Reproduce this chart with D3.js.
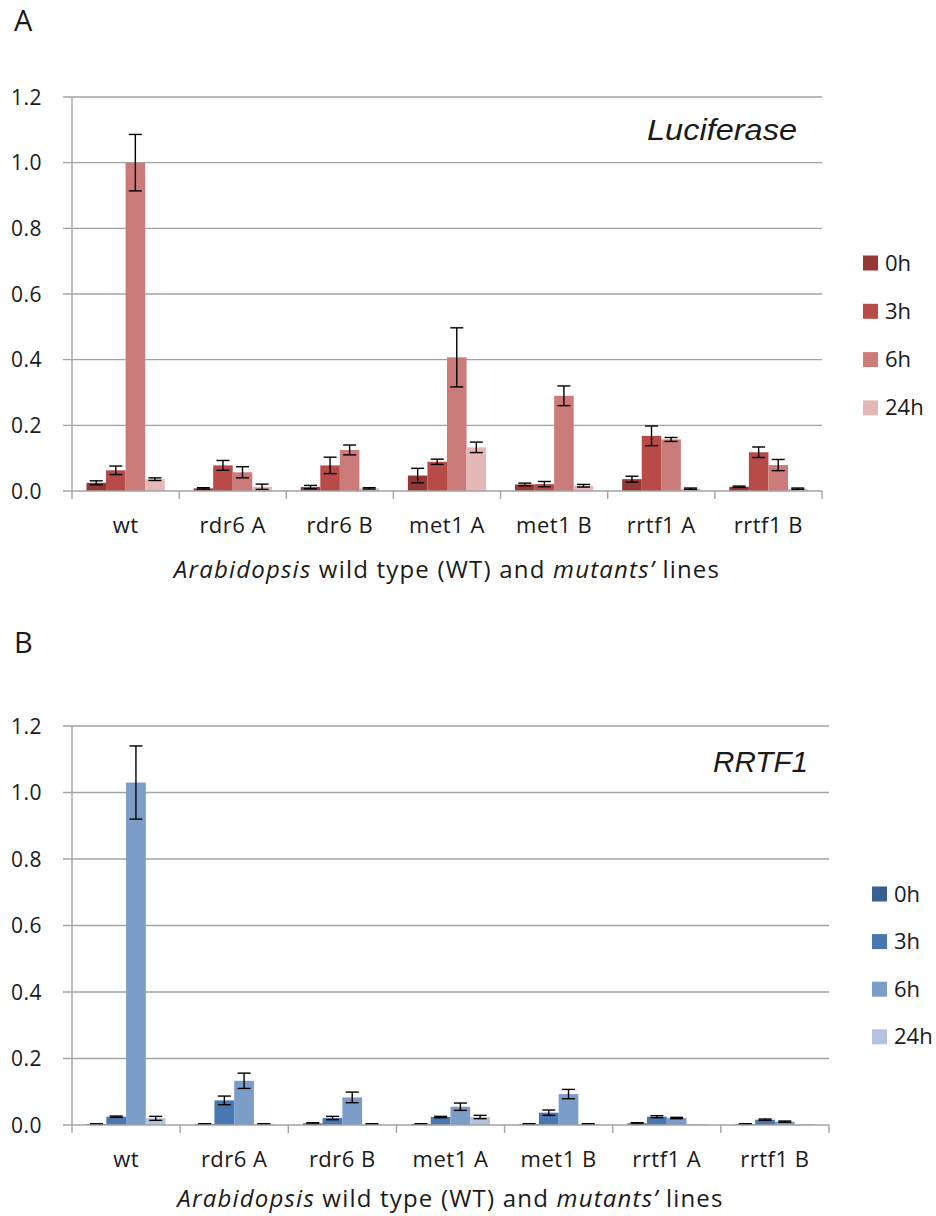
<!DOCTYPE html>
<html lang="en">

<head>
  <meta charset="UTF-8">
  <title>Luciferase / RRTF1</title>
  <style>
    html,
    body {
      margin: 0;
      width: 100%;
      height: 100%;
      overflow: hidden;
      background: #fff;
    }

    svg {
      display: block;
    }

    text {
      font-family: "Open Sans", sans-serif;
      fill: #1a1a1a;
    }
  </style>
</head>

<body>
  <div id="chart"></div>

  <script src="https://cdn.jsdelivr.net/npm/d3@7"></script>
  <script>
    // ---- data ----
    const categories = ['wt', 'rdr6 A', 'rdr6 B', 'met1 A', 'met1 B', 'rrtf1 A', 'rrtf1 B']
    const timepoints = ['0h', '3h', '6h', '24h']
    const yTicks = [0, 0.2, 0.4, 0.6, 0.8, 1.0, 1.2]

    // A: Luciferase
    const luc0h = [0.025, 0.008, 0.012, 0.047, 0.020, 0.036, 0.013]
    const luc3h = [0.063, 0.078, 0.078, 0.089, 0.021, 0.168, 0.118]
    const luc6h = [1.000, 0.057, 0.125, 0.407, 0.290, 0.157, 0.079]
    const luc24h = [0.036, 0.013, 0.008, 0.133, 0.016, 0.007, 0.007]
    const lucErr0h = [0.006, 0.002, 0.005, 0.022, 0.004, 0.009, 0.002]
    const lucErr3h = [0.013, 0.015, 0.025, 0.008, 0.008, 0.030, 0.016]
    const lucErr6h = [0.086, 0.017, 0.015, 0.090, 0.030, 0.006, 0.017]
    const lucErr24h = [0.004, 0.008, 0.002, 0.016, 0.004, 0.002, 0.002]

    // B: RRTF1
    const rrtf0h = [0.003, 0.003, 0.005, 0.003, 0.003, 0.005, 0.003]
    const rrtf3h = [0.025, 0.074, 0.021, 0.024, 0.037, 0.025, 0.016]
    const rrtf6h = [1.030, 0.133, 0.083, 0.055, 0.093, 0.021, 0.010]
    const rrtf24h = [0.020, 0.003, 0.003, 0.024, 0.003, 0.003, 0.003]
    const rrtfErr0h = [0.001, 0.001, 0.002, 0.001, 0.001, 0.002, 0.001]
    const rrtfErr3h = [0.002, 0.013, 0.005, 0.002, 0.008, 0.003, 0.002]
    const rrtfErr6h = [0.110, 0.023, 0.016, 0.011, 0.014, 0.002, 0.002]
    const rrtfErr24h = [0.006, 0.001, 0.001, 0.005, 0.001, 0, 0]

    const panels = [{
      letter: 'A',
      letterY: 31,
      gene: 'Luciferase',
      geneX: 797,
      geneY: 140,
      geneLen: 150,
      left: 72,
      right: 822,
      top: 97,
      bottom: 491,
      titleDy: 87,
      means: [luc0h, luc3h, luc6h, luc24h],
      errs: [lucErr0h, lucErr3h, lucErr6h, lucErr24h],
      colors: ['#953735', '#B84A48', '#CB7B7A', '#E4B8B7'],
      legendX: 863,
      legendY: 263,
      legendStep: 48.3
    }, {
      letter: 'B',
      letterY: 653,
      gene: 'RRTF1',
      geneX: 808,
      geneY: 772,
      geneLen: 95,
      left: 72,
      right: 829,
      top: 726,
      bottom: 1125,
      titleDy: 82,
      means: [rrtf0h, rrtf3h, rrtf6h, rrtf24h],
      errs: [rrtfErr0h, rrtfErr3h, rrtfErr6h, rrtfErr24h],
      colors: ['#375F92', '#4877B1', '#7D9DC9', '#B4C4E0'],
      legendX: 872,
      legendY: 894,
      legendStep: 47.6
    }]

    const width = 936
    const height = 1216
    const gridColor = '#a3a3a3'

    const svg = d3.select('#chart').append('svg')
      .attr('width', width)
      .attr('height', height)

    function drawPanel(p) {
      const g = svg.append('g')

      const x = d3.scaleBand()
        .domain(categories)
        .range([p.left, p.right])

      const xs = d3.scaleBand()
        .domain(timepoints)
        .range([x.bandwidth() * 0.135, x.bandwidth() * 0.865])

      const y = d3.scaleLinear()
        .domain([0, 1.2])
        .range([p.bottom, p.top])

      // panel letter
      g.append('text')
        .attr('x', 14)
        .attr('y', p.letterY)
        .style('font-size', '29px')
        .text(p.letter)

      // gridlines + left ticks
      g.selectAll('.grid')
        .data(yTicks.slice(1))
        .enter()
        .append('line')
        .attr('x1', p.left - 9)
        .attr('x2', p.right)
        .attr('y1', d => y(d))
        .attr('y2', d => y(d))
        .attr('stroke', gridColor)
        .attr('stroke-width', 1.4)

      g.selectAll('.ylab')
        .data(yTicks)
        .enter()
        .append('text')
        .attr('x', 42)
        .attr('y', d => y(d) + 7.5)
        .attr('text-anchor', 'end')
        .style('font-size', '21px')
        .style('letter-spacing', '0.5px')
        .text(d3.format('.1f'))

      // y axis line
      g.append('line')
        .attr('x1', p.left)
        .attr('x2', p.left)
        .attr('y1', p.top)
        .attr('y2', p.bottom)
        .attr('stroke', gridColor)
        .attr('stroke-width', 1.4)

      // bars
      const rows = []
      timepoints.forEach((t, i) => {
        categories.forEach((c, j) => {
          rows.push({ cat: c, t, v: p.means[i][j], e: p.errs[i][j], color: p.colors[i] })
        })
      })

      g.selectAll('.bar')
        .data(rows)
        .enter()
        .append('rect')
        .attr('x', d => x(d.cat) + xs(d.t))
        .attr('width', xs.bandwidth())
        .attr('y', d => y(d.v))
        .attr('height', d => y(0) - y(d.v))
        .attr('fill', d => d.color)

      // error bars
      const eb = g.selectAll('.err')
        .data(rows.filter(d => d.e > 0))
        .enter()
        .append('g')
        .attr('stroke', '#000')
        .attr('stroke-width', 1.4)

      const cx = d => x(d.cat) + xs(d.t) + xs.bandwidth() / 2

      eb.append('line')
        .attr('x1', cx).attr('x2', cx)
        .attr('y1', d => y(d.v + d.e))
        .attr('y2', d => y(d.v - d.e))

      eb.append('line')
        .attr('x1', d => cx(d) - 6.5).attr('x2', d => cx(d) + 6.5)
        .attr('y1', d => y(d.v + d.e)).attr('y2', d => y(d.v + d.e))

      eb.append('line')
        .attr('x1', d => cx(d) - 6.5).attr('x2', d => cx(d) + 6.5)
        .attr('y1', d => y(d.v - d.e)).attr('y2', d => y(d.v - d.e))

      // x axis
      g.append('line')
        .attr('x1', p.left - 9)
        .attr('x2', p.right)
        .attr('y1', y(0))
        .attr('y2', y(0))
        .attr('stroke', gridColor)
        .attr('stroke-width', 1.4)

      const bounds = categories.map(c => x(c)).concat([p.right])
      g.selectAll('.xtick')
        .data(bounds)
        .enter()
        .append('line')
        .attr('x1', d => d)
        .attr('x2', d => d)
        .attr('y1', y(0))
        .attr('y2', y(0) + 8)
        .attr('stroke', gridColor)
        .attr('stroke-width', 1.4)

      g.selectAll('.xlab')
        .data(categories)
        .enter()
        .append('text')
        .attr('x', d => x(d) + x.bandwidth() / 2)
        .attr('y', y(0) + 42)
        .attr('text-anchor', 'middle')
        .style('font-size', '22px')
        .style('letter-spacing', '0.5px')
        .text(d => d)

      // axis title
      const title = g.append('text')
        .attr('x', (p.left + p.right) / 2)
        .attr('y', y(0) + p.titleDy)
        .attr('text-anchor', 'middle')
        .style('font-size', '24px')
        .style('letter-spacing', '1.2px')
      title.append('tspan').style('font-style', 'italic').text('Arabidopsis')
      title.append('tspan').text(' wild type (WT) and ')
      title.append('tspan').style('font-style', 'italic').text('mutants’')
      title.append('tspan').text(' lines')

      // gene label
      g.append('text')
        .attr('x', p.geneX - p.geneLen)
        .attr('y', p.geneY)
        .attr('textLength', p.geneLen)
        .attr('lengthAdjust', 'spacingAndGlyphs')
        .style('font-family', '"Liberation Sans", Arial, sans-serif')
        .style('font-style', 'italic')
        .style('font-size', '29px')
        .text(p.gene)

      // legend
      const lg = g.selectAll('.legend')
        .data(timepoints)
        .enter()
        .append('g')
        .attr('transform', (d, i) => `translate(${p.legendX}, ${p.legendY + i * p.legendStep})`)

      lg.append('rect')
        .attr('x', 0)
        .attr('y', -7.5)
        .attr('width', 15)
        .attr('height', 15)
        .attr('fill', (d, i) => p.colors[i])

      lg.append('text')
        .attr('x', 22)
        .attr('y', 7.5)
        .style('font-size', '22px')
        .text(d => d)
    }

    panels.forEach(drawPanel)
  </script>
</body>

</html>
